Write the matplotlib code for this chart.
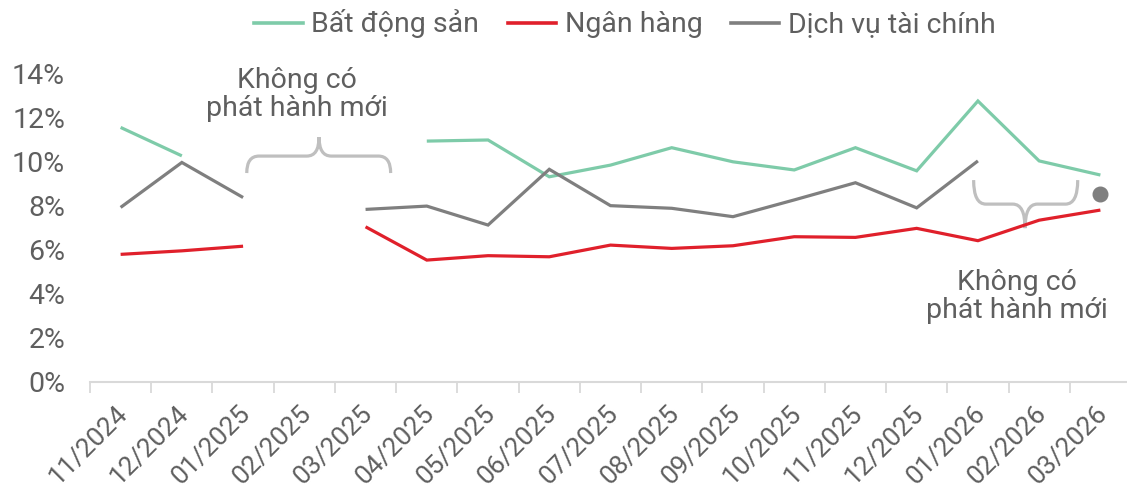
import numpy as np
import matplotlib
matplotlib.use("Agg")
import matplotlib.pyplot as plt
from matplotlib.path import Path
from matplotlib.patches import PathPatch
from matplotlib.lines import Line2D
import matplotlib.transforms as mtransforms

plt.rcParams['font.family'] = ['Roboto', 'DejaVu Sans']

categories = ["11/2024", "12/2024", "01/2025", "02/2025", "03/2025", "04/2025",
              "05/2025", "06/2025", "07/2025", "08/2025", "09/2025", "10/2025",
              "11/2025", "12/2025", "01/2026", "02/2026", "03/2026"]
nan = np.nan
bat_dong_san = [11.53, 10.24, nan, nan, nan, 10.91, 10.96, 9.29, 9.82, 10.61,
                9.97, 9.60, 10.61, 9.56, 12.73, 10.01, 9.37]
ngan_hang = [5.77, 5.93, 6.14, nan, 7.02, 5.51, 5.71, 5.66, 6.19, 6.04,
             6.16, 6.57, 6.54, 6.95, 6.39, 7.32, 7.78]
dich_vu_tc = [7.90, 9.94, 8.35, nan, 7.81, 7.96, 7.10, 9.63, 7.98, 7.86,
              7.48, 8.24, 9.02, 7.88, 10.01, nan, 8.49]
series_names = ["Bất động sản", "Ngân hàng", "Dịch vụ tài chính"]
yticks = [0, 2, 4, 6, 8, 10, 12, 14]
note_text = "Không có\nphát hành mới"

c_green = "#7ecba9"
c_red = "#e0202b"
c_gray = "#7f7f7f"
c_text = "#5f5f5f"
c_axis = "#d9d9d9"
c_brace = "#bfbfbf"
fs = 20.5

W, H = 1127, 495
fig = plt.figure(figsize=(W / 100, H / 100), dpi=100)
ax = fig.add_axes([90 / W, 113.5 / H, 1041 / W, 308.5 / H])

x = np.arange(len(categories))
lw = 2.3
for vals, col in zip([bat_dong_san, ngan_hang, dich_vu_tc], [c_green, c_red, c_gray]):
    v = np.array(vals, dtype=float)
    ax.plot(x, v, color=col, lw=lw, solid_capstyle='butt', solid_joinstyle='miter', clip_on=False)
    for i in range(len(v)):
        if np.isnan(v[i]):
            continue
        left = i == 0 or np.isnan(v[i - 1])
        right = i == len(v) - 1 or np.isnan(v[i + 1])
        if left and right:
            ax.plot([x[i]], [v[i]], 'o', color=col, ms=10.5, clip_on=False)

ax.set_xlim(-0.5, len(categories) - 0.5)
ax.set_ylim(0, 14)
ax.set_yticks(yticks)
ax.set_yticklabels([f"{t}%" for t in yticks])
ax.set_xticks(x)
ax.set_xticks(np.arange(-0.5, len(categories) + 0.5, 1), minor=True)
ax.tick_params(axis='x', which='major', length=0, pad=14, labelsize=19, labelcolor=c_text)
ax.tick_params(axis='x', which='minor', length=8, width=1.3, color=c_axis)
ax.tick_params(axis='y', length=0, pad=18, labelsize=fs, labelcolor=c_text)
ax.set_xticklabels(categories, rotation=45, ha='right', va='top', rotation_mode='anchor')
offset = mtransforms.ScaledTranslation(-5 / 100, 0, fig.dpi_scale_trans)
for lab in ax.get_xticklabels():
    lab.set_transform(lab.get_transform() + offset)
for s in ['top', 'right', 'left']:
    ax.spines[s].set_visible(False)
ax.spines['bottom'].set_color(c_axis)
ax.spines['bottom'].set_linewidth(1.5)


def brace(ax, x0, x1, xm, y_end, y_bar, y_tip, rx):
    verts = [(x0, y_end), (x0, y_bar), (x0 + rx, y_bar), (xm - rx, y_bar),
             (xm, y_bar), (xm, y_tip),
             (x1, y_end), (x1, y_bar), (x1 - rx, y_bar), (xm + rx, y_bar),
             (xm, y_bar), (xm, y_tip)]
    codes = [Path.MOVETO, Path.CURVE3, Path.CURVE3, Path.LINETO, Path.CURVE3, Path.CURVE3,
             Path.MOVETO, Path.CURVE3, Path.CURVE3, Path.LINETO, Path.CURVE3, Path.CURVE3]
    ax.add_patch(PathPatch(Path(verts, codes), fill=False, ec=c_brace, lw=2.3,
                           clip_on=False, capstyle='butt'))


brace(ax, 2.06, 4.41, 3.24, 9.46, 10.23, 11.09, 0.2)
brace(ax, 13.93, 15.63, 14.77, 9.14, 8.05, 6.96, 0.2)

ax.text(2.88, 13.04, note_text, ha='center', va='center', fontsize=fs,
        color=c_text, linespacing=1.05)
ax.text(14.63, 3.86, note_text, ha='center', va='center', fontsize=fs,
        color=c_text, linespacing=1.05)

handles = [Line2D([], [], color=c, lw=2.6) for c in [c_green, c_red, c_gray]]
fig.legend(handles, series_names, loc='center', bbox_to_anchor=(625 / W, 1 - 24 / H),
           ncol=3, frameon=False, fontsize=fs, handlelength=1.7, handletextpad=0.3,
           columnspacing=1.0, labelcolor=c_text)

fig.savefig("out.png", dpi=100)
